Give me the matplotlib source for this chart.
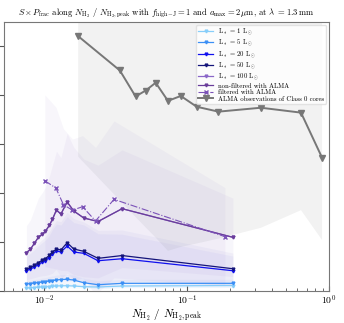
import numpy as np
import matplotlib
matplotlib.use("Agg")
import matplotlib.pyplot as plt

plt.rcParams['font.family'] = 'serif'
plt.rcParams['font.serif'] = ['cmr10', 'DejaVu Serif']
plt.rcParams['mathtext.fontset'] = 'cm'
plt.rcParams['axes.unicode_minus'] = False
plt.rcParams['axes.formatter.use_mathtext'] = True

# column density ratio sampled by the models
x_sim = [0.00747, 0.00797, 0.0085, 0.00907, 0.00968, 0.01016, 0.01084, 0.01138,
         0.01215, 0.01306, 0.01445, 0.01608, 0.01891, 0.02381, 0.03514, 0.2109]

l1 = [0.061, 0.065, 0.071, 0.078, 0.082, 0.086, 0.092, 0.096,
      0.102, 0.106, 0.108, 0.102, 0.088, 0.082, 0.102, 0.112]
l5 = [0.143, 0.153, 0.163, 0.173, 0.184, 0.194, 0.204, 0.214,
      0.224, 0.235, 0.239, 0.224, 0.169, 0.129, 0.157, 0.157]
l20 = [0.414, 0.451, 0.490, 0.541, 0.592, 0.618, 0.684, 0.755,
       0.816, 0.796, 0.918, 0.796, 0.769, 0.618, 0.659, 0.414]
l50 = [0.443, 0.484, 0.524, 0.578, 0.633, 0.659, 0.729, 0.796,
       0.857, 0.837, 0.986, 0.857, 0.810, 0.667, 0.724, 0.455]
l100 = [0.782, 0.851, 0.973, 1.096, 1.163, 1.218, 1.341, 1.463,
        1.653, 1.571, 1.816, 1.633, 1.490, 1.418, 1.680, 1.096]

l1_std = [0.03, 0.03, 0.03, 0.03, 0.03, 0.03, 0.04, 0.04,
          0.04, 0.04, 0.04, 0.04, 0.04, 0.04, 0.04, 0.04]
l5_std = [0.06, 0.06, 0.07, 0.07, 0.08, 0.08, 0.09, 0.09,
          0.10, 0.10, 0.10, 0.10, 0.09, 0.08, 0.08, 0.08]
l20_std = [0.30, 0.32, 0.35, 0.38, 0.40, 0.42, 0.45, 0.50,
           0.55, 0.55, 0.60, 0.60, 0.58, 0.55, 0.50, 0.30]
l50_std = [0.32, 0.34, 0.37, 0.40, 0.42, 0.45, 0.48, 0.52,
           0.58, 0.58, 0.62, 0.62, 0.60, 0.57, 0.52, 0.32]
l100_std = [0.55, 0.60, 0.70, 0.80, 0.85, 0.90, 1.00, 1.10,
            1.20, 1.15, 1.40, 1.30, 1.20, 1.15, 1.20, 0.80]

x_filt = [0.01008, 0.01205, 0.01361, 0.01574, 0.01853, 0.02287, 0.03084, 0.1854]
filt = [2.25, 2.10, 1.76, 1.65, 1.72, 1.43, 1.87, 1.11]
filt_std = [1.75, 1.65, 1.55, 1.45, 1.45, 1.50, 1.60, 1.00]

x_alma = [0.01727, 0.0339, 0.0437, 0.0514, 0.0605, 0.0738, 0.0908, 0.1175,
          0.167, 0.332, 0.635, 0.893]
alma = [5.20, 4.50, 3.97, 4.09, 4.25, 3.88, 3.98, 3.76, 3.66, 3.74, 3.64, 2.72]
alma_low = [2.74, 1.85, 1.51, 1.30, 1.09, 0.82, 0.90, 0.97, 1.07, 1.29, 1.65, 1.04]
alma_high = [8, 8, 8, 8, 8, 8, 8, 8, 8, 8, 8, 8]

labels = [r"L$_*$ = 1 L$_\odot$", r"L$_*$ = 5 L$_\odot$", r"L$_*$ = 20 L$_\odot$",
          r"L$_*$ = 50 L$_\odot$", r"L$_*$ = 100 L$_\odot$"]
colors = ['#87cefa', '#3b8ff5', '#1010ee', '#14147a', '#8a66c8']
band_colors = ['#87cefa', '#6f8ff0', '#8080e0', '#8080d0', '#9a80d0']

fig = plt.figure(figsize=(3.44, 3.23), dpi=100)
ax = fig.add_axes([0.0116, 0.099, 0.945, 0.833])

# shaded spreads
ax.fill_between(x_alma, alma_low, alma_high, color='grey', alpha=0.1, lw=0)
ax.fill_between(x_filt, np.array(filt) - np.array(filt_std), np.array(filt) + np.array(filt_std),
                color='#8a70c0', alpha=0.06, lw=0)
for y, s, c in zip([l1, l5, l20, l50, l100], [l1_std, l5_std, l20_std, l50_std, l100_std], band_colors):
    y = np.array(y)
    s = np.array(s)
    ax.fill_between(x_sim, y - s, y + s, color=c, alpha=0.07, lw=0)

for y, c, lab in zip([l1, l5, l20, l50, l100], colors, labels):
    ax.plot(x_sim, y, color=c, marker='v', ms=2, lw=0.9, label=lab)

ax.plot(x_sim, l100, color='#6a3d9a', marker='v', ms=2, lw=0.9, label='non-filtered with ALMA')
ax.plot(x_filt, filt, color='#7b52b8', marker='x', ms=2.2, lw=0.8, ls='-.', label='filtered with ALMA')
ax.plot(x_alma, alma, color='#777777', marker='v', ms=4.5, lw=1.4,
        label='ALMA observations of Class 0 cores')

ax.set_xscale('log')
ax.set_xlim(0.0052, 1.0)
ax.set_ylim(0, 5.49)
ax.set_yticks([0, 1, 2, 3, 4, 5])
ax.set_yticklabels([])
ax.tick_params(labelsize=7, colors='#555555', labelcolor='black')
ax.tick_params(axis='x', which='both', direction='in', pad=2)
ax.tick_params(which='minor', colors='#555555')
for sp in ax.spines.values():
    sp.set_color('#777777')

ax.set_xlabel(r"$N_{\rm H_2}$ / $N_{\rm H_2,peak}$", fontsize=8, labelpad=0)
ax.set_title(r"$S \times P_{\rm frac}$ along $N_{\rm H_2}$ / $N_{\rm H_2,peak}$ with "
             r"$f_{\rm high\!-\!J} = 1$ and $a_{\rm max} = 2\,\mu$m, at $\lambda\ = 1.3\,$mm",
             fontsize=6.2, pad=5)
ax.legend(loc='upper right', fontsize=4.8, framealpha=0.8, edgecolor='#dddddd',
          borderaxespad=0.4, handlelength=2.2, labelspacing=0.1, borderpad=0.3)

fig.savefig('out.png', dpi=100)
